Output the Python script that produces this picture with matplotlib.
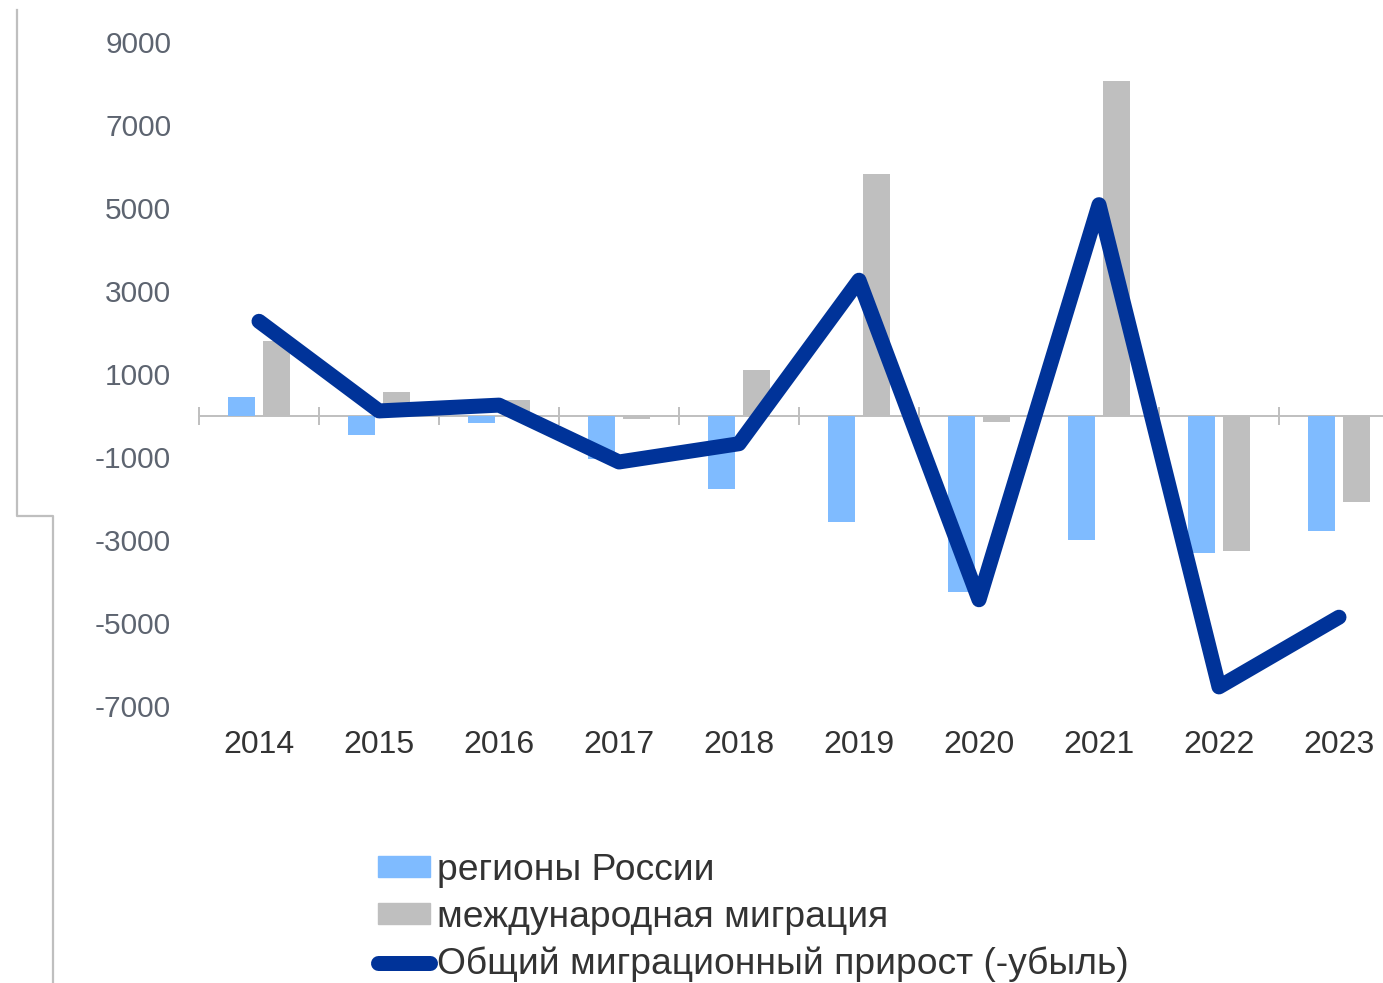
import numpy as np
import matplotlib
matplotlib.use("Agg")
import matplotlib.pyplot as plt
import matplotlib.patches as mpatches
from matplotlib.lines import Line2D

plt.rcParams["font.family"] = ["Liberation Sans", "DejaVu Sans"]

# ── Data ─────────────────────────────────────────────────────────────────────
years = ["2014", "2015", "2016", "2017", "2018",
         "2019", "2020", "2021", "2022", "2023"]
regions = [450, -470, -180, -1040, -1770, -2570, -4250, -3000, -3310, -2780]
international = [1800, 570, 370, -85, 1090, 5820, -160, 8070, -3260, -2085]
total = [2270, 110, 250, -1120, -680, 3260, -4440, 5080, -6540, -4860]
y_ticks = [9000, 7000, 5000, 3000, 1000, -1000, -3000, -5000, -7000]

labels = ["регионы России", "международная миграция",
          "Общий миграционный прирост (-убыль)"]

# ── Style ────────────────────────────────────────────────────────────────────
BLUE_BAR = "#7fbbff"
GRAY_BAR = "#bfbfbf"
LINE_COLOR = "#003399"
AXIS_GRAY = "#bfbfbf"
YTICK_COLOR = "#5d6470"
TEXT_DARK = "#333333"

W, H, DPI = 1383, 983, 100

fig = plt.figure(figsize=(W / DPI, H / DPI), dpi=DPI)

# axes placed in pixels: x from 199 to 1399 (cropped on the right), y 42..706
ax = fig.add_axes([199 / W, (H - 706) / H, 1200 / W, 664 / H])

x = np.arange(len(years))
bw = 0.225
off = 0.142

ax.bar(x - off, regions, width=bw, color=BLUE_BAR, zorder=2)
ax.bar(x + off, international, width=bw, color=GRAY_BAR, zorder=2)
ax.plot(x, total, color=LINE_COLOR, linewidth=10.8,
        solid_joinstyle="round", solid_capstyle="round", zorder=4)

ax.set_xlim(-0.5, len(years) - 0.5)
ax.set_ylim(-7000, 9000)
for s in ax.spines.values():
    s.set_visible(False)

ax.set_yticks(y_ticks)
ax.set_yticklabels([str(v) for v in y_ticks])
ax.tick_params(axis="y", length=0, pad=20, labelsize=21.5, labelcolor=YTICK_COLOR)

ax.set_xticks(x)
ax.set_xticklabels(years)
ax.tick_params(axis="x", length=0, pad=17.5, labelsize=23, labelcolor=TEXT_DARK)

# category axis crossing at zero with tick marks between the years
sec = ax.secondary_xaxis(0, transform=ax.transData)
sec.set_xticks(np.arange(-0.5, len(years), 1.0))
sec.tick_params(axis="x", direction="inout", length=13, width=1.4,
                color=AXIS_GRAY, labelbottom=False)
sec.spines["bottom"].set_color(AXIS_GRAY)
sec.spines["bottom"].set_linewidth(1.4)
sec.set_zorder(1)

# ── Legend ───────────────────────────────────────────────────────────────────
handles = [
    mpatches.Patch(color=BLUE_BAR, label=labels[0]),
    mpatches.Patch(color=GRAY_BAR, label=labels[1]),
    Line2D([0], [0], color=LINE_COLOR, linewidth=10.8,
           solid_capstyle="round", label=labels[2]),
]
fig.legend(handles=handles, loc="upper left",
           bbox_to_anchor=(378 / W, (H - 853) / H),
           frameon=False, fontsize=26.8, labelcolor=TEXT_DARK,
           handlelength=1.4, handleheight=0.5, handletextpad=0.19,
           labelspacing=0.32, borderpad=0, borderaxespad=0)

# ── Left bracket decoration ──────────────────────────────────────────────────
px = [17, 17, 53, 53]
py = [10, 516, 516, 983]
fig.add_artist(Line2D([v / W for v in px], [(H - v) / H for v in py],
                      color=AXIS_GRAY, linewidth=1.6,
                      transform=fig.transFigure))

fig.savefig("out.png", dpi=DPI)
